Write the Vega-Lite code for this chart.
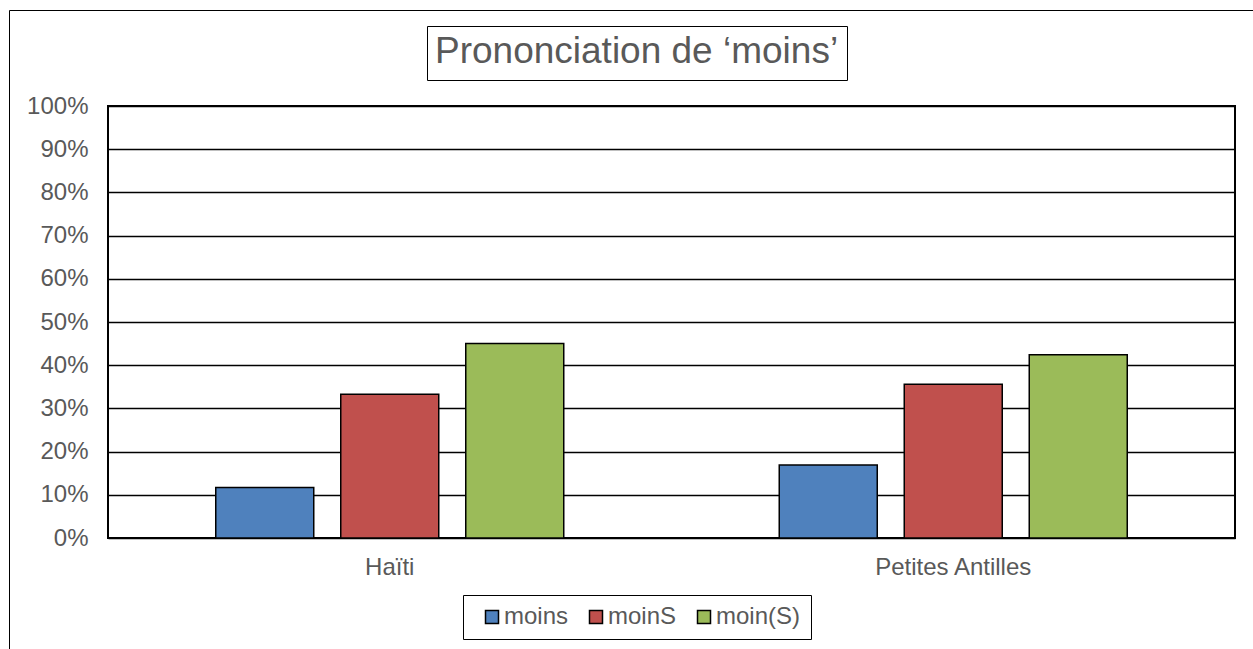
{
  "$schema": "https://vega.github.io/schema/vega-lite/v6.json",
  "width": 1127,
  "height": 432,
  "autosize": "none",
  "padding": {"left": 108, "top": 106, "right": 18, "bottom": 111},
  "background": "white",
  "data": {
    "values": [
      {"region": "Haïti", "variante": "moins", "pct": 0.117},
      {"region": "Haïti", "variante": "moinS", "pct": 0.333},
      {"region": "Haïti", "variante": "moin(S)", "pct": 0.450},
      {"region": "Petites Antilles", "variante": "moins", "pct": 0.169},
      {"region": "Petites Antilles", "variante": "moinS", "pct": 0.356},
      {"region": "Petites Antilles", "variante": "moin(S)", "pct": 0.424}
    ]
  },
  "encoding": {
    "x": {
      "field": "region",
      "type": "nominal",
      "sort": ["Haïti", "Petites Antilles"],
      "scale": {"paddingInner": 0, "paddingOuter": 0},
      "axis": {
        "title": null,
        "labelAngle": 0,
        "labelFont": "Liberation Sans",
        "labelFontSize": 24,
        "labelColor": "#595959",
        "ticks": false,
        "tickSize": 0,
        "domain": false,
        "labelPadding": 17
      }
    },
    "xOffset": {
      "field": "variante",
      "type": "nominal",
      "sort": ["moins", "moinS", "moin(S)"],
      "scale": {"paddingInner": 0.216, "paddingOuter": 0.862}
    },
    "y": {
      "field": "pct",
      "type": "quantitative",
      "scale": {"domain": [0, 1]},
      "axis": {
        "title": null,
        "format": ".0%",
        "values": [0, 0.1, 0.2, 0.3, 0.4, 0.5, 0.6, 0.7, 0.8, 0.9, 1],
        "labelFont": "Liberation Sans",
        "labelFontSize": 24,
        "labelColor": "#595959",
        "ticks": false,
        "tickSize": 0,
        "domain": false,
        "labelPadding": 20,
        "grid": true,
        "gridColor": "black",
        "gridWidth": 1.5
      }
    }
  },
  "layer": [
    {
      "mark": {"type": "bar", "stroke": "black", "strokeWidth": 1.5},
      "encoding": {
        "color": {
          "field": "variante",
          "type": "nominal",
          "sort": ["moins", "moinS", "moin(S)"],
          "scale": {
            "domain": ["moins", "moinS", "moin(S)"],
            "range": ["#4F81BD", "#C0504D", "#9BBB59"]
          },
          "legend": {
            "title": null,
            "orient": "none",
            "direction": "horizontal",
            "legendX": 355,
            "legendY": 489,
            "strokeColor": "black",
            "padding": 10,
            "symbolType": "square",
            "symbolSize": 169,
            "symbolStrokeColor": "black",
            "symbolStrokeWidth": 1.5,
            "symbolOpacity": 1,
            "symbolOffset": 7,
            "labelFont": "Liberation Sans",
            "labelFontSize": 24,
            "labelColor": "#595959",
            "labelOffset": 0,
            "columnPadding": 8
          }
        }
      }
    },
    {
      "mark": {"type": "point", "opacity": 0},
      "encoding": {
        "shape": {
          "field": "region",
          "type": "nominal",
          "legend": {
            "title": "Prononciation de ‘moins’",
            "values": ["Haïti"],
            "orient": "none",
            "legendX": 319,
            "legendY": -80,
            "strokeColor": "black",
            "padding": 8,
            "titleFont": "Liberation Sans",
            "titleFontSize": 37,
            "titleFontWeight": "normal",
            "titleColor": "#595959",
            "titleLimit": 800,
            "titlePadding": 0,
            "clipHeight": 1,
            "rowPadding": 0,
            "symbolSize": 0,
            "symbolOpacity": 0,
            "symbolStrokeWidth": 0,
            "labelExpr": "''",
            "labelFontSize": 0
          }
        }
      }
    },
    {
      "mark": {"type": "point", "opacity": 0},
      "encoding": {
        "strokeDash": {
          "field": "pct",
          "type": "nominal",
          "legend": {
            "title": null,
            "values": [0.117],
            "orient": "none",
            "legendX": -99,
            "legendY": -96,
            "strokeColor": "black",
            "padding": 0,
            "symbolType": "square",
            "symbolSize": 2000000,
            "symbolOpacity": 0,
            "symbolStrokeWidth": 0,
            "labelExpr": "''",
            "labelFontSize": 0
          }
        }
      }
    }
  ],
  "config": {
    "view": {"stroke": "black", "strokeWidth": 2}
  }
}
